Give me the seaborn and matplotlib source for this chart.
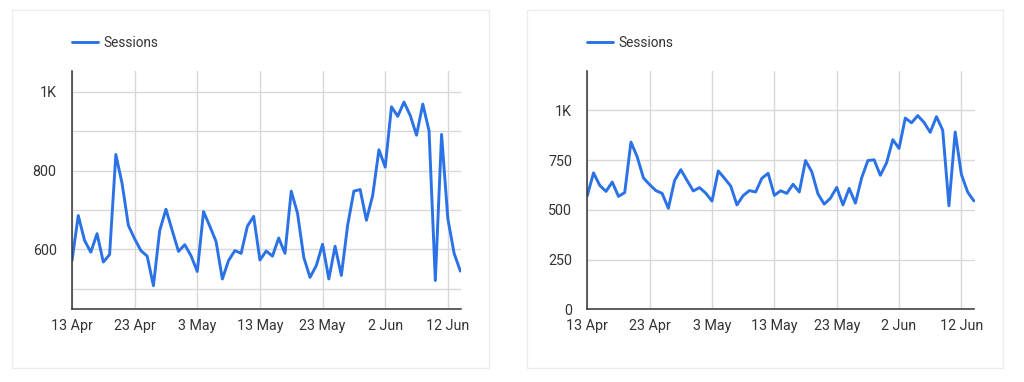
import numpy as np
import pandas as pd
import matplotlib
matplotlib.use("Agg")
import matplotlib.pyplot as plt
import matplotlib.dates as mdates
from matplotlib.patches import Rectangle
from matplotlib.ticker import FixedLocator, FixedFormatter
import seaborn as sns

# ---- data ----
start_date = "2021-04-13"
sessions = [572, 686, 623, 593, 640, 568, 587, 841, 767, 661, 627, 597, 583, 508,
            648, 702, 648, 595, 612, 584, 544, 696, 659, 620, 525, 572, 597, 590,
            659, 684, 573, 596, 583, 629, 590, 748, 692, 580, 529, 559, 613, 525,
            608, 534, 661, 748, 752, 674, 737, 853, 809, 962, 938, 974, 940, 890,
            969, 901, 521, 892, 678, 590, 545]
series_name = "Sessions"
x_tick_dates = ["2021-04-13", "2021-04-23", "2021-05-03", "2021-05-13",
                "2021-05-23", "2021-06-02", "2021-06-12"]
x_tick_labels = ["13 Apr", "23 Apr", "3 May", "13 May", "23 May", "2 Jun", "12 Jun"]
left_y_ticks = [600, 800, 1000]
left_y_labels = ["600", "800", "1K"]
left_y_minor = [500, 700, 900]
right_y_ticks = [0, 250, 500, 750, 1000]
right_y_labels = ["0", "250", "500", "750", "1K"]

dates = pd.date_range(start_date, periods=len(sessions), freq="D")
df = pd.DataFrame({"date": dates, series_name: sessions})

sns.set_theme(style="white")
plt.rcParams["font.family"] = ["Roboto", "DejaVu Sans"]

LINE = "#2a72e5"
TEXT = "#333333"
GRID = "#d8d8d8"

fig = plt.figure(figsize=(10.24, 3.82), dpi=100)

# panel borders
for (x0, x1) in [(12, 489), (527, 1003)]:
    fig.patches.append(Rectangle((x0 / 1024, 1 - 368 / 382), (x1 - x0) / 1024, (368 - 10) / 382,
                                 transform=fig.transFigure, fill=False,
                                 edgecolor="#ececec", linewidth=1.0))

axL = fig.add_axes([72 / 1024, 1 - 309.3 / 382, (461 - 72) / 1024, (309.3 - 71) / 382])
axR = fig.add_axes([587.3 / 1024, 1 - 309.3 / 382, (974.5 - 587.3) / 1024, (309.3 - 70.7) / 382])

xt = pd.to_datetime(x_tick_dates)
x0 = dates[0]
for ax, yl, ytk, ylab, ymin_list in [
    (axL, (448, 1053), left_y_ticks, left_y_labels, left_y_minor),
    (axR, (0, 1200), right_y_ticks, right_y_labels, []),
]:
    sns.lineplot(data=df, x="date", y=series_name, ax=ax, color=LINE,
                 linewidth=2.1, label=series_name)
    ax.set_xlim(x0, x0 + pd.Timedelta(days=62.1))
    ax.set_ylim(*yl)
    ax.xaxis.set_major_locator(FixedLocator(mdates.date2num(xt)))
    ax.xaxis.set_major_formatter(FixedFormatter(x_tick_labels))
    ax.yaxis.set_major_locator(FixedLocator(ytk))
    ax.yaxis.set_major_formatter(FixedFormatter(ylab))
    if ymin_list:
        ax.yaxis.set_minor_locator(FixedLocator(ymin_list))
        ax.grid(True, axis="y", which="minor", color=GRID, linewidth=1.0)
    ax.grid(True, which="major", color=GRID, linewidth=1.0)
    ax.set_axisbelow(True)
    ax.set_xlabel("")
    ax.set_ylabel("")
    for s in ["top", "right"]:
        ax.spines[s].set_visible(False)
    for s in ["left", "bottom"]:
        ax.spines[s].set_color("#333333")
        ax.spines[s].set_linewidth(1.1)
    ax.tick_params(axis="both", which="both", length=0, labelsize=10.3, colors=TEXT)
    ax.tick_params(axis="x", pad=7)
    ax.tick_params(axis="y", pad=11)
    ax.set_facecolor("none")
    leg = ax.legend(loc="center left", frameon=False, fontsize=9.8,
                    handlelength=1.9, handletextpad=0.4, borderpad=0, borderaxespad=0,
                    bbox_to_anchor=(ax.get_position().x0, 1 - 43 / 382),
                    bbox_transform=fig.transFigure)
    for t in leg.get_texts():
        t.set_color(TEXT)

fig.savefig("out.png", dpi=100, facecolor="white")
